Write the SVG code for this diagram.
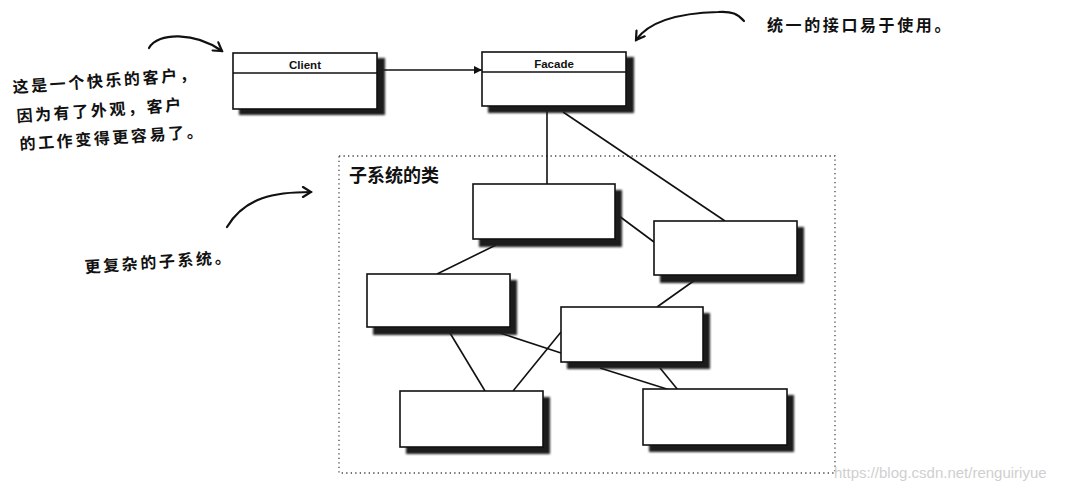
<svg xmlns="http://www.w3.org/2000/svg" width="1065" height="491" viewBox="0 0 1065 491">
<style>
.box{fill:#fff;stroke:#111;stroke-width:1.6}
.sh{fill:#1a1a1a;filter:url(#blur)}
.ln{stroke:#111;stroke-width:1.6;fill:none}
.hand{font-family:"Noto Sans CJK SC","Noto Sans CJK JP",sans-serif;font-size:16px;font-weight:bold;fill:#111;letter-spacing:2.6px}
.cls{font-family:"Liberation Sans",Arial,sans-serif;font-size:11.5px;font-weight:bold;fill:#111;text-anchor:middle}
.curve{stroke:#111;stroke-width:2.2;fill:none;stroke-linecap:round}
</style>
<defs>
<filter id="blur" x="-10%" y="-10%" width="130%" height="140%"><feGaussianBlur stdDeviation="0.8"/></filter>
<marker id="tri" viewBox="0 0 10 10" refX="10" refY="5" markerWidth="10" markerHeight="8" markerUnits="userSpaceOnUse" orient="auto"><path d="M0,0 L10,5 L0,10 z" fill="#111"/></marker>
<marker id="vee" viewBox="0 0 12 12" refX="10" refY="6" markerWidth="12" markerHeight="12" markerUnits="userSpaceOnUse" orient="auto"><path d="M2,1 L10,6 L2,11" fill="none" stroke="#111" stroke-width="2.2" stroke-linecap="round"/></marker>
</defs>
<rect width="1065" height="491" fill="#fff"/>

<g id="subsystem-frame">
<rect x="339" y="156" width="496" height="317" fill="none" stroke="#444" stroke-width="1.3" stroke-dasharray="1.3,3.2"/>
<text x="349" y="182" font-family="'Noto Sans CJK SC',sans-serif" font-size="18" font-weight="bold" fill="#111">子系统的类</text>
</g>

<g id="connectors">
<line class="ln" x1="377" y1="70" x2="482" y2="70" marker-end="url(#tri)"/>
<line class="ln" x1="547" y1="106" x2="547" y2="184"/>
<line class="ln" x1="563" y1="112" x2="725" y2="221"/>
<line class="ln" x1="615" y1="213" x2="654" y2="242"/>
<line class="ln" x1="496" y1="245" x2="437" y2="274"/>
<line class="ln" x1="695" y1="280" x2="657" y2="307"/>
<line class="ln" x1="450" y1="333" x2="485" y2="391"/>
<line class="ln" x1="500" y1="333" x2="561" y2="353"/>
<line class="ln" x1="561" y1="332" x2="513" y2="391"/>
<line class="ln" x1="600" y1="368" x2="670" y2="390"/>
<line class="ln" x1="660" y1="368" x2="678" y2="390"/>
</g>

<g id="client">
<rect class="sh" x="239" y="58" width="146" height="57"/>
<rect class="box" x="233" y="53" width="144" height="56"/>
<line class="ln" x1="233" y1="73" x2="377" y2="73"/>
<text class="cls" x="305" y="69">Client</text>
</g>

<g id="facade">
<rect class="sh" x="488" y="57" width="146" height="56"/>
<rect class="box" x="482" y="52" width="144" height="54"/>
<line class="ln" x1="482" y1="72" x2="626" y2="72"/>
<text class="cls" x="554" y="68">Facade</text>
</g>

<g id="sub-a">
<rect class="sh" x="479" y="190" width="143" height="57"/>
<rect class="box" x="473" y="184" width="142" height="55"/>
</g>
<g id="sub-b">
<rect class="sh" x="660" y="227" width="144" height="56"/>
<rect class="box" x="654" y="221" width="143" height="54"/>
</g>
<g id="sub-c">
<rect class="sh" x="373" y="280" width="144" height="55"/>
<rect class="box" x="367" y="274" width="143" height="53"/>
</g>
<g id="sub-d">
<rect class="sh" x="567" y="313" width="143" height="56"/>
<rect class="box" x="561" y="307" width="142" height="55"/>
</g>
<g id="sub-e">
<rect class="sh" x="406" y="397" width="144" height="57"/>
<rect class="box" x="400" y="391" width="143" height="56"/>
</g>
<g id="sub-f">
<rect class="sh" x="649" y="395" width="145" height="57"/>
<rect class="box" x="643" y="389" width="144" height="56"/>
</g>

<g id="note-client">
<text class="hand" transform="translate(13,93) rotate(-4)">这是一个快乐的客户，</text>
<text class="hand" transform="translate(17,122) rotate(-4)" letter-spacing="4">因为有了外观，客户</text>
<text class="hand" transform="translate(20,150) rotate(-4)">的工作变得更容易了。</text>
<path class="curve" d="M149,48 C158,32 195,32 222,51" marker-end="url(#vee)"/>
</g>

<g id="note-facade">
<text class="hand" x="767" y="31" letter-spacing="3">统一的接口易于使用。</text>
<path class="curve" d="M744,21 C738,14 732,11 718,12 C680,13 650,20 636,40" marker-end="url(#vee)"/>
</g>

<g id="note-subsystem">
<text class="hand" transform="translate(85,273) rotate(-4)" letter-spacing="4">更复杂的子系统。</text>
<path class="curve" d="M227,227 C245,197 275,192 311,192" marker-end="url(#vee)"/>
</g>

<text x="834" y="478" font-family="'Liberation Sans',Arial,sans-serif" font-size="15" fill="#cfcfcf">https://blog.csdn.net/renguiriyue</text>
</svg>
